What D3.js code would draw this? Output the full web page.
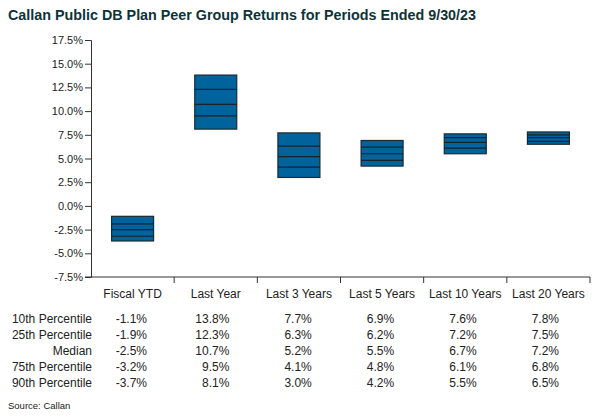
<!DOCTYPE html>
<html><head><meta charset="utf-8">
<script src="https://cdn.jsdelivr.net/npm/d3@7"></script>
<style>body{margin:0;background:#fff}svg{display:block;font-family:"Liberation Sans",Arial,sans-serif}</style>
</head><body><svg id="c" width="600" height="418"></svg>
<script>
const categories = ["Fiscal YTD","Last Year","Last 3 Years","Last 5 Years","Last 10 Years","Last 20 Years"];
const p10 = [-1.1,13.8,7.7,6.9,7.6,7.8];
const p25 = [-1.9,12.3,6.3,6.2,7.2,7.5];
const median = [-2.5,10.7,5.2,5.5,6.7,7.2];
const p75 = [-3.2,9.5,4.1,4.8,6.1,6.8];
const p90 = [-3.7,8.1,3.0,4.2,5.5,6.5];
const rowLabels = ["10th Percentile","25th Percentile","Median","75th Percentile","90th Percentile"];
const yTicks = [-7.5,-5,-2.5,0,2.5,5,7.5,10,12.5,15,17.5];

const svg = d3.select("#c");
const x = d3.scaleBand().domain(categories).range([91,590]);
const y = d3.scaleLinear().domain([-7.5,17.5]).range([277,40]);
const txt = "#222";

svg.append("text").attr("x",8).attr("y",20).attr("font-size",14).attr("font-weight","bold")
  .attr("fill","#0d3338").attr("textLength",468).attr("lengthAdjust","spacingAndGlyphs")
  .text("Callan Public DB Plan Peer Group Returns for Periods Ended 9/30/23");

const ya = svg.append("g").attr("transform","translate(91,0)")
  .call(d3.axisLeft(y).tickValues(yTicks).tickSize(6).tickPadding(2).tickFormat(d=>d.toFixed(1)+"%"));
ya.select(".domain").attr("stroke","#333");
ya.selectAll(".tick line").attr("stroke","#333");
ya.selectAll("text").attr("font-size",11).attr("fill",txt).attr("font-family","Liberation Sans, Arial, sans-serif");

const xa = svg.append("g").attr("transform","translate(0,277)");
xa.append("line").attr("x1",85).attr("x2",590).attr("stroke","#333");
xa.selectAll(".tk").data(categories).enter().append("line")
  .attr("x1",d=>x(d)+x.bandwidth()).attr("x2",d=>x(d)+x.bandwidth()).attr("y1",0).attr("y2",6).attr("stroke","#333");
xa.selectAll(".lb").data(categories).enter().append("text")
  .attr("x",d=>x(d)+x.bandwidth()/2).attr("y",21).attr("text-anchor","middle")
  .attr("font-size",12).attr("fill",txt).text(d=>d);

const bw = x.bandwidth()*0.505;
const g = svg.append("g");
categories.forEach((c,i)=>{
  const cx = x(c)+x.bandwidth()/2;
  g.append("rect").attr("x",cx-bw/2).attr("width",bw).attr("y",y(p10[i])).attr("height",y(p90[i])-y(p10[i]))
    .attr("fill","#00639c").attr("stroke","#1b2a33").attr("stroke-width",1.2);
  [p25[i],median[i],p75[i]].forEach(v=>{
    g.append("line").attr("x1",cx-bw/2).attr("x2",cx+bw/2).attr("y1",y(v)).attr("y2",y(v))
      .attr("stroke","#14232c").attr("stroke-width",1.2);
  });
});

const series = [p10,p25,median,p75,p90];
const rowY = [323,339,355,371,387];
series.forEach((arr,r)=>{
  svg.append("text").attr("x",92).attr("y",rowY[r]).attr("text-anchor","end").attr("font-size",12)
    .attr("fill",txt).text(rowLabels[r]);
  arr.forEach((v,i)=>{
    svg.append("text").attr("x",147+i*82.4).attr("y",rowY[r]).attr("text-anchor","end").attr("font-size",12)
      .attr("fill",txt).text(v.toFixed(1)+"%");
  });
});
svg.append("text").attr("x",8).attr("y",409).attr("font-size",9.5).attr("fill",txt).text("Source: Callan");
</script></body></html>
